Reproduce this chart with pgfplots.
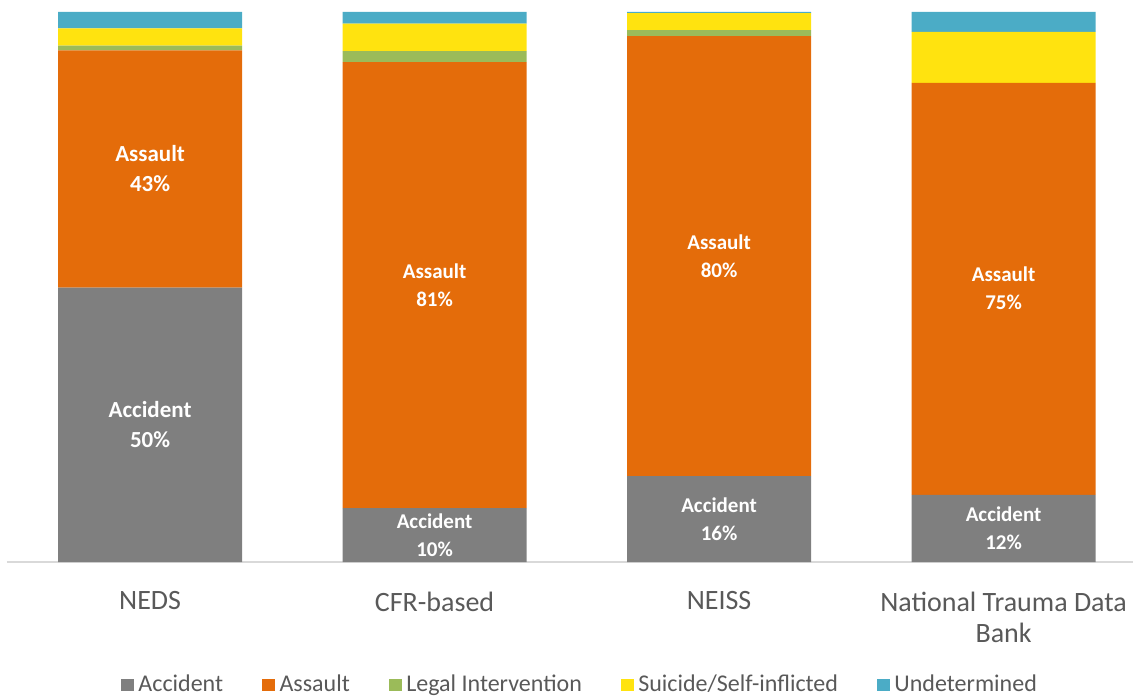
\documentclass[border=0pt]{standalone}
\usepackage{fontspec}
\setmainfont{Carlito}
\usepackage{pgfplots}
\pgfplotsset{compat=1.18}
\definecolor{accident}{HTML}{7F7F7F}
\definecolor{assault}{HTML}{E46C0A}
\definecolor{legal}{HTML}{9BBB59}
\definecolor{suicide}{HTML}{FFE30F}
\definecolor{undet}{HTML}{4BACC6}
\definecolor{labelgray}{HTML}{595959}
\pgfplotsset{
  sq/.style={legend image code/.code={\fill[##1] (0pt,-3.2pt) rectangle (6.4pt,3.2pt);}},
}
\tikzset{
  lbl/.style={text=white, font=\bfseries\fontsize{10.5}{14}\selectfont, align=center},
  lblbig/.style={text=white, font=\bfseries\fontsize{11.5}{15}\selectfont, align=center},
}
\begin{document}
\begin{tikzpicture}
\begin{axis}[
  at={(0,0)}, anchor=south west,
  scale only axis, width=563pt, height=281pt,
  ybar stacked, bar width=92pt,
  xmin=-0.503, xmax=3.455, ymin=0, ymax=102.18,
  axis x line=bottom, axis y line=none,
  x axis line style={-, draw=black!15, line width=0.8pt},
  xtick={0,1,2,3},
  xticklabels={NEDS, CFR-based, NEISS, {National Trauma Data\\Bank}},
  xtick style={draw=none},
  xticklabel style={font=\fontsize{14}{15.5}\selectfont, text=labelgray,
    align=center, anchor=north, inner sep=0pt, yshift=-12.5pt},
  ytick=\empty,
  clip=false,
  legend style={at={(0.51,-0.219)}, anchor=center, draw=none, fill=none,
    font=\fontsize{12}{14}\selectfont, text=labelgray,
    legend columns=5, column sep=0pt,
    /tikz/every even column/.append style={column sep=17.4pt},
    nodes={inner sep=2.2pt}},
]
% NEDS, CFR-based, NEISS, National Trauma Data Bank (percent)
\addplot[fill=accident, draw=none, sq] coordinates {(0,49.9) (1,9.8) (2,15.6) (3,12.2)};
\addplot[fill=assault, draw=none, sq] coordinates {(0,43.1) (1,81.1) (2,80.0) (3,74.9)};
\addplot[fill=legal, draw=none, sq] coordinates {(0,0.9) (1,2.0) (2,1.1) (3,0.0)};
\addplot[fill=suicide, draw=none, sq] coordinates {(0,3.1) (1,5.0) (2,3.1) (3,9.3)};
\addplot[fill=undet, draw=none, sq] coordinates {(0,3.0) (1,2.1) (2,0.2) (3,3.6)};
\legend{Accident, Assault, Legal Intervention, Suicide/Self-inflicted, Undetermined}

% segment centres for the data labels
\coordinate (ac0) at (axis cs:0,24.95);
\coordinate (as0) at (axis cs:0,71.45);
\coordinate (ac1) at (axis cs:1,4.9);
\coordinate (as1) at (axis cs:1,50.4);
\coordinate (ac2) at (axis cs:2,7.8);
\coordinate (as2) at (axis cs:2,55.6);
\coordinate (ac3) at (axis cs:3,6.1);
\coordinate (as3) at (axis cs:3,49.7);
\end{axis}
\node[lblbig] at (ac0) {Accident\\50\%};
\node[lblbig] at (as0) {Assault\\43\%};
\node[lbl] at (ac1) {Accident\\10\%};
\node[lbl] at (as1) {Assault\\81\%};
\node[lbl] at (ac2) {Accident\\16\%};
\node[lbl] at (as2) {Assault\\80\%};
\node[lbl] at (ac3) {Accident\\12\%};
\node[lbl] at (as3) {Assault\\75\%};
\pgfresetboundingbox
\path[use as bounding box] (-3.5pt,-67pt) rectangle (563pt,281pt);
\end{tikzpicture}
\end{document}
